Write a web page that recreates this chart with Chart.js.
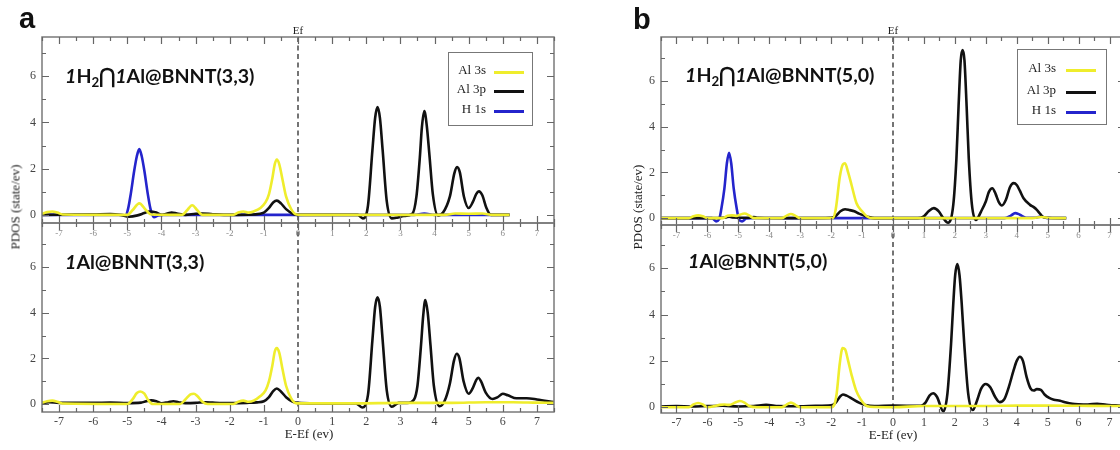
<!DOCTYPE html>
<html><head><meta charset="utf-8">
<script src="https://cdn.jsdelivr.net/npm/chart.js@4.4.1/dist/chart.umd.min.js"></script>
<style>
html,body{margin:0;padding:0;background:#fff;}
#wrap{position:relative;width:1120px;height:450px;overflow:hidden;background:#fff;}
canvas{position:absolute;top:0;}
.t{position:absolute;white-space:nowrap;line-height:1;}
.serif{font-family:"Liberation Serif","DejaVu Serif",serif;color:#222;}
.ttl{font-family:Lato,"Open Sans",sans-serif;font-weight:700;font-size:19.6px;color:#111;transform:translateY(-50%);}
.pl{font-family:"Liberation Sans",Arial,sans-serif;font-weight:700;font-size:29px;color:#111;}
.c{transform:translate(-50%,-50%);}
.rot{transform:translate(-50%,-50%) rotate(-90deg);}
.legend{position:absolute;border:1.5px solid #777;box-sizing:border-box;}
sub.s{font-size:0.68em;position:relative;top:0.28em;vertical-align:baseline;}
</style></head>
<body><div id="wrap">
<canvas id="cAT" width="560" height="250" style="left:0"></canvas>
<canvas id="cAB" width="560" height="450" style="left:0"></canvas>
<canvas id="cBT" width="570" height="250" style="left:560px"></canvas>
<canvas id="cBB" width="570" height="450" style="left:560px"></canvas>

<div class="t pl" style="left:19px;top:4px">a</div>
<div class="t pl" style="left:633px;top:5px">b</div>

<div class="t ttl" style="left:65px;top:76px"><i>1</i>H<sub class="s">2</sub>⋂<i>1</i>Al@BNNT(3,3)</div>
<div class="t ttl" style="left:65px;top:262px"><i>1</i>Al@BNNT(3,3)</div>
<div class="t ttl" style="left:685px;top:75px"><i>1</i>H<sub class="s">2</sub>⋂<i>1</i>Al@BNNT(5,0)</div>
<div class="t ttl" style="left:688px;top:261px"><i>1</i>Al@BNNT(5,0)</div>

<div class="t serif c" style="left:298px;top:30px;font-size:11px">Ef</div>
<div class="t serif c" style="left:893px;top:30px;font-size:11px">Ef</div>

<div class="t serif rot" style="left:15px;top:207px;font-size:13px">PDOS (state/ev)</div>
<div class="t serif rot" style="left:637px;top:207px;font-size:13px">PDOS (state/ev)</div>
<div class="t serif c" style="left:309px;top:433px;font-size:13px">E-Ef (ev)</div>
<div class="t serif c" style="left:893px;top:434px;font-size:13px">E-Ef (ev)</div>
</div>
<script>
// ---------- data ----------
const seriesNames  = ['Al 3s', 'Al 3p', 'H 1s'];
const seriesColors = ['#efed2c', '#111111', '#2424cc'];
const xTickVals = [-7,-6,-5,-4,-3,-2,-1,0,1,2,3,4,5,6,7];
const yTickVals = [0,2,4,6];

// Panel a, top: 1H2∩1Al@BNNT(3,3)
const aH2_3s_x = [-7.5,-7.35,-7.2,-7.05,-6.9,-5.0,-4.85,-4.65,-4.45,-4.3,-3.4,-3.25,-3.1,-2.95,-2.8,-1.9,-1.75,-1.6,-1.45,-1.3,-1.1,-0.95,-0.85,-0.75,-0.68,-0.62,-0.55,-0.45,-0.35,-0.2,-0.05,0.3,4.3,4.6,5.0,5.4,5.7,6.2];
const aH2_3s_y = [0.05,0.12,0.15,0.1,0.02,0.0,0.2,0.5,0.2,0.02,0.0,0.2,0.42,0.2,0.0,0.0,0.1,0.15,0.1,0.15,0.3,0.55,0.9,1.6,2.2,2.4,2.2,1.5,0.8,0.25,0.02,0,0,0.06,0.05,0.06,0.0,0];
const aH2_3p_x = [-7.5,-6.0,-5.5,-5.2,-4.95,-4.7,-4.5,-4.35,-4.15,-4.0,-3.85,-3.7,-3.55,-3.3,-3.0,-2.8,-2.5,-2.0,-1.3,-1.0,-0.85,-0.72,-0.62,-0.5,-0.35,-0.15,0,1.75,1.9,2.05,2.18,2.26,2.33,2.4,2.48,2.6,2.75,2.9,3.1,3.35,3.47,3.57,3.63,3.7,3.77,3.85,3.95,4.1,4.25,4.45,4.58,4.66,4.74,4.86,5.0,5.12,5.22,5.3,5.4,5.52,5.65,6.2];
const aH2_3p_y = [0,0.02,0.04,0.0,-0.08,-0.02,0.08,0.15,0.1,0.0,0.05,0.1,0.06,0.0,0.05,0.06,0.03,0.0,0.02,0.1,0.3,0.55,0.62,0.5,0.25,0.05,0,0,-0.15,0.4,2.8,4.2,4.67,4.2,2.8,0.6,-0.15,-0.12,-0.05,0.05,0.8,2.5,3.8,4.5,3.9,2.6,0.9,-0.02,0.1,0.8,1.8,2.07,1.85,0.8,0.3,0.55,0.9,1.02,0.85,0.3,0.0,0];
const aH2_1s_x = [-7.5,-5.15,-5.05,-4.98,-4.9,-4.8,-4.72,-4.65,-4.58,-4.5,-4.4,-4.32,-4.22,-4.1,-3.95,3.4,3.7,4.0,6.2];
const aH2_1s_y = [0,0,-0.03,0.25,0.9,1.9,2.55,2.85,2.55,1.9,0.9,0.25,-0.1,-0.03,0,0,0.06,0,0];

// Panel a, bottom: 1Al@BNNT(3,3)
const a_3s_x = [-7.5,-7.35,-7.2,-7.05,-6.9,-5.0,-4.85,-4.72,-4.62,-4.5,-4.38,-4.25,-3.45,-3.3,-3.15,-3.05,-2.95,-2.8,-2.65,-1.9,-1.75,-1.6,-1.45,-1.3,-1.1,-0.95,-0.85,-0.75,-0.68,-0.62,-0.55,-0.45,-0.35,-0.2,-0.05,1.7,3.0,4.5,5.5,6.3,7.0,7.5];
const a_3s_y = [0.05,0.12,0.15,0.1,0.02,0.0,0.2,0.48,0.55,0.45,0.15,0.0,0.0,0.2,0.42,0.45,0.35,0.1,0,0,0.1,0.15,0.1,0.15,0.35,0.6,1.0,1.7,2.3,2.45,2.25,1.5,0.8,0.25,0.03,0.03,0.05,0.05,0.08,0.08,0.06,0.05];
const a_3p_x = [-7.5,-7.3,-7.0,-6.5,-6.0,-5.5,-5.0,-4.6,-4.45,-4.3,-4.15,-4.0,-3.8,-3.65,-3.5,-3.3,-3.0,-2.7,-2.5,-2.2,-2.0,-1.5,-1.2,-1.0,-0.85,-0.72,-0.62,-0.5,-0.35,-0.15,0,0.5,1.7,1.88,2.05,2.18,2.26,2.33,2.4,2.48,2.6,2.75,2.95,3.2,3.4,3.5,3.6,3.67,3.73,3.8,3.88,3.98,4.15,4.3,4.45,4.57,4.65,4.73,4.85,5.0,5.12,5.22,5.28,5.36,5.5,5.7,5.85,6.0,6.15,6.4,6.7,7.0,7.5];
const a_3p_y = [0.05,0.08,0.05,0.05,0.05,0.06,0.04,0.06,0.12,0.16,0.12,0.03,0.08,0.12,0.08,0.04,0.05,0.08,0.06,0.04,0.04,0.05,0.07,0.12,0.3,0.58,0.68,0.55,0.3,0.1,0.05,0.03,0.03,-0.15,0.4,2.8,4.25,4.68,4.25,2.8,0.6,-0.12,0.05,0.05,0.2,0.8,2.5,3.9,4.55,4.0,2.6,0.8,-0.1,0.15,0.9,1.9,2.2,2.0,1.0,0.45,0.7,1.05,1.15,1.0,0.5,0.22,0.3,0.45,0.38,0.25,0.25,0.2,0.08];

// Panel b, top: 1H2∩1Al@BNNT(5,0)
const bH2_3s_x = [-7.5,-6.6,-6.45,-6.3,-6.15,-6.0,-5.5,-5.35,-5.2,-5.05,-4.95,-4.8,-4.65,-4.5,-3.6,-3.45,-3.3,-3.15,-3.0,-1.95,-1.85,-1.72,-1.62,-1.55,-1.45,-1.34,-1.18,-1.0,-0.85,-0.7,4.5,4.8,5.1,5.6];
const bH2_3s_y = [0,0,0.08,0.12,0.08,0.0,0,0.1,0.12,0.1,0.15,0.2,0.12,0,0,0.1,0.18,0.1,0,0,0.4,1.8,2.35,2.4,2.0,1.45,0.65,0.3,0.08,0,0,0.05,0,0];
const bH2_3p_x = [-7.5,-6.0,-5.4,-5.3,-5.2,-4.6,-4.5,-4.4,-3.0,-2.0,-1.85,-1.7,-1.55,-1.4,-1.25,-1.1,-0.95,-0.8,-0.6,0,0.8,1.0,1.15,1.32,1.48,1.6,1.78,1.95,2.05,2.12,2.19,2.25,2.31,2.38,2.45,2.55,2.68,2.85,3.0,3.1,3.21,3.32,3.42,3.52,3.65,3.78,3.9,4.0,4.1,4.22,4.43,4.55,4.65,4.75,4.88,5.6];
const bH2_3p_y = [0,0,0.03,0.06,0.03,0.02,0.05,0.02,0.0,0.02,0.1,0.3,0.39,0.35,0.3,0.2,0.12,0.05,0,0,0,0.08,0.3,0.44,0.3,0.05,-0.2,0.6,2.6,4.9,6.9,7.35,6.9,4.9,2.6,0.6,-0.08,0.3,0.73,1.15,1.31,1.05,0.7,0.55,0.8,1.35,1.53,1.45,1.2,0.87,0.58,0.48,0.36,0.2,0.03,0];
const bH2_1s_x = [-7.5,-5.85,-5.72,-5.62,-5.55,-5.45,-5.37,-5.3,-5.23,-5.15,-5.05,-4.98,-4.88,-4.75,-4.6,3.6,3.8,3.95,4.1,4.3,4.6,4.8,5.0,5.6];
const bH2_1s_y = [0,0,-0.14,-0.05,0.4,1.3,2.4,2.86,2.4,1.3,0.4,-0.05,-0.14,-0.02,0,0,0.1,0.22,0.15,0.02,0.02,0.07,0,0];

// Panel b, bottom: 1Al@BNNT(5,0)
const b_3s_x = [-7.5,-6.6,-6.45,-6.3,-6.15,-6.0,-5.75,-5.6,-5.45,-5.3,-5.1,-4.95,-4.8,-4.65,-4.4,-3.6,-3.45,-3.3,-3.15,-3.0,-2.0,-1.9,-1.82,-1.72,-1.63,-1.55,-1.45,-1.34,-1.2,-1.05,-0.9,-0.75,0,1.0,2.0,3.0,4.0,5.0,6.0,7.0,7.5];
const b_3s_y = [0,0,0.12,0.18,0.12,0,0.05,0.1,0.12,0.1,0.2,0.27,0.2,0.05,0,0,0.1,0.2,0.1,0,0,0.1,0.6,1.9,2.55,2.5,2.0,1.4,0.75,0.35,0.1,0.02,0,0.05,0.05,0.05,0.07,0.07,0.06,0.05,0.05];
const b_3p_x = [-7.5,-7.0,-6.5,-6.0,-5.5,-5.0,-4.5,-4.1,-3.7,-3.0,-2.5,-2.0,-1.85,-1.72,-1.62,-1.5,-1.3,-1.1,-0.9,-0.6,0,0.9,1.05,1.18,1.3,1.42,1.63,1.76,1.88,1.95,2.01,2.08,2.15,2.22,2.3,2.43,2.58,2.72,2.85,3.0,3.15,3.3,3.45,3.6,3.75,3.9,4.0,4.1,4.2,4.32,4.45,4.55,4.65,4.78,4.9,5.05,5.2,5.4,5.6,5.8,6.0,6.3,6.6,6.9,7.2,7.5];
const b_3p_y = [0.03,0.05,0.03,0.05,0.06,0.03,0.05,0.1,0.05,0.04,0.06,0.08,0.2,0.45,0.55,0.5,0.35,0.2,0.1,0.05,0.07,0.06,0.2,0.5,0.6,0.45,-0.18,0.6,2.8,4.5,5.7,6.18,5.7,4.5,2.8,0.6,-0.12,0.3,0.8,1.0,0.85,0.45,0.22,0.35,0.9,1.6,2.0,2.18,2.0,1.3,0.8,0.72,0.78,0.75,0.55,0.4,0.32,0.28,0.2,0.15,0.13,0.12,0.15,0.1,0.08,0.05];

// ---------- drawing ----------
const framePlugin = {
  id: 'frame',
  beforeDatasetsDraw(chart) {
    const {ctx, chartArea: a, scales: {x}} = chart;
    const px = x.getPixelForValue(0);
    ctx.save();
    ctx.strokeStyle = '#3a3a3a'; ctx.lineWidth = 1.4; ctx.setLineDash([5, 3.5]);
    ctx.beginPath(); ctx.moveTo(px, a.top); ctx.lineTo(px, a.bottom); ctx.stroke();
    ctx.restore();
  },
  afterDatasetsDraw(chart) {
    const {ctx, chartArea: a, scales: {x, y}} = chart;
    ctx.save();
    ctx.strokeStyle = '#7a7a7a'; ctx.lineWidth = 1.5;
    ctx.strokeRect(a.left, a.top, a.right - a.left, a.bottom - a.top);
    ctx.strokeStyle = '#666'; ctx.lineWidth = 1.2;
    ctx.beginPath();
    for (let v = Math.ceil(x.min * 2) / 2; v <= x.max; v += 0.5) {
      const p = Math.round(x.getPixelForValue(v)) + 0.5;
      const L = Number.isInteger(v) ? 7 : 4;
      ctx.moveTo(p, a.bottom); ctx.lineTo(p, a.bottom - L);
      ctx.moveTo(p, a.top); ctx.lineTo(p, a.top + L);
    }
    for (let v = Math.ceil(y.min); v <= y.max; v += 1) {
      const p = Math.round(y.getPixelForValue(v)) + 0.5;
      const L = (v % 2 === 0) ? 7 : 4;
      ctx.moveTo(a.left, p); ctx.lineTo(a.left + L, p);
      ctx.moveTo(a.right, p); ctx.lineTo(a.right - L, p);
    }
    ctx.stroke();
    ctx.restore();
  }
};

function build(id, series, o) {
  return new Chart(document.getElementById(id), {
    type: 'line',
    data: {
      datasets: series.map(s => ({
        label: s.name,
        data: s.x.map((xv, i) => ({x: xv, y: s.y[i]})),
        borderColor: s.color, borderWidth: 2.6, pointRadius: 0, fill: false,
        cubicInterpolationMode: 'monotone'
      }))
    },
    options: {
      responsive: false, animation: false, devicePixelRatio: 1, events: [],
      layout: {padding: {left: 0, right: o.padR, top: o.top, bottom: 0}},
      plugins: {legend: {display: false}, tooltip: {enabled: false}},
      scales: {
        x: {
          type: 'linear', min: -7.5, max: 7.5,
          grid: {display: false, drawTicks: false}, border: {display: false},
          afterBuildTicks: s => { s.ticks = xTickVals.map(v => ({value: v})); },
          ticks: {autoSkip: false, maxRotation: 0, padding: o.xPad, color: o.xColor,
                  font: {family: 'Liberation Serif', size: o.xSize}},
          afterFit: s => { s.height = o.xH; }
        },
        y: {
          type: 'linear', min: o.ymin, max: o.ymax,
          grid: {display: false, drawTicks: false}, border: {display: false},
          afterBuildTicks: s => { s.ticks = yTickVals.map(v => ({value: v})); },
          ticks: {padding: 6, color: '#444', font: {family: 'Liberation Serif', size: 12}},
          afterFit: s => { s.width = o.yW; }
        }
      }
    },
    plugins: [framePlugin]
  });
}
const S = (x, y, k) => ({x, y, name: seriesNames[k], color: seriesColors[k]});

build('cAT', [S(aH2_3s_x, aH2_3s_y, 0), S(aH2_3p_x, aH2_3p_y, 1), S(aH2_1s_x, aH2_1s_y, 2)],
      {top: 37, padR: 6, yW: 42, xH: 27, xPad: 5, xColor: '#8a8a8a', xSize: 9, ymin: -0.35, ymax: 7.7});
build('cAB', [S(a_3s_x, a_3s_y, 0), S(a_3p_x, a_3p_y, 1)],
      {top: 223, padR: 6, yW: 42, xH: 38, xPad: 3, xColor: '#444', xSize: 12, ymin: -0.35, ymax: 7.93});
build('cBT', [S(bH2_3s_x, bH2_3s_y, 0), S(bH2_3p_x, bH2_3p_y, 1), S(bH2_1s_x, bH2_1s_y, 2)],
      {top: 37, padR: 5, yW: 101, xH: 25, xPad: 5, xColor: '#8a8a8a', xSize: 9, ymin: -0.3, ymax: 7.92});
build('cBB', [S(b_3s_x, b_3s_y, 0), S(b_3p_x, b_3p_y, 1)],
      {top: 225, padR: 5, yW: 101, xH: 37, xPad: 3, xColor: '#444', xSize: 12, ymin: -0.25, ymax: 7.87});

// legends (HTML, from series names/colours)
function addLegend(left, top, w, h, textRight, lineL, lineR, rows, lineDy) {
  const wrap = document.getElementById('wrap');
  const box = document.createElement('div');
  box.className = 'legend';
  Object.assign(box.style, {left: left + 'px', top: top + 'px', width: w + 'px', height: h + 'px'});
  wrap.appendChild(box);
  seriesNames.forEach((n, i) => {
    const t = document.createElement('div');
    t.className = 't serif';
    t.textContent = n;
    Object.assign(t.style, {right: (w - textRight) + 'px', top: (rows[i] - 6.5) + 'px', fontSize: '13px', color: '#222'});
    box.appendChild(t);
    const l = document.createElement('div');
    Object.assign(l.style, {position: 'absolute', left: lineL + 'px', width: (lineR - lineL) + 'px',
      top: (rows[i] + lineDy - 1.5) + 'px', height: '3px', background: seriesColors[i]});
    box.appendChild(l);
  });
}
addLegend(448, 52, 85, 74, 39, 45, 75, [16, 35.5, 55.5], 3);
addLegend(1017, 49, 90, 76, 40, 48, 78, [17, 39, 59], 3);
</script>
</body></html>
